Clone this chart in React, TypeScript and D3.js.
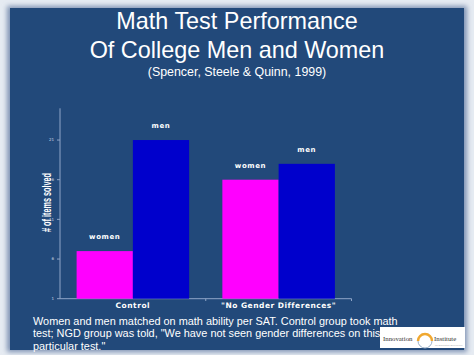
import React from "react";
import * as d3 from "d3";

const categories = ["Control", "\"No Gender Differences\""];
const groups = ["women", "men"];
const womenValues = [7, 16];
const menValues = [21, 18];
const yTicks = [1, 6, 11, 16, 21];
const titleLines = ["Math Test Performance", "Of College Men and Women"];
const subtitle = "(Spencer, Steele & Quinn, 1999)";
const yLabel = "# of items solved";
const footerLines = [
  "Women and men matched on math ability per SAT. Control group took math",
  "test; NGD group was told, \"We have not seen gender differences on this",
  "particular test.\"",
];

const W = 474;
const H = 355;
const BG = "#22497a";
const colors: Record<string, string> = { women: "#ff00ff", men: "#0000cc" };

export default function App() {
  const x0 = d3.scaleBand<string>().domain(categories).range([60, 351.5]).paddingInner(0).paddingOuter(0);
  const x1 = d3.scaleBand<string>().domain(groups).range([0, x0.bandwidth()]).paddingOuter(0.295).paddingInner(0);
  const y = d3.scaleLinear().domain([1, 25]).range([298.7, 108.3]);
  const data = categories.map((c, i) => ({ c, vals: [womenValues[i], menValues[i]] }));
  const wideFont = "'DejaVu Sans', sans-serif";
  return (
    <div style={{ position: "absolute", left: 0, top: 0, width: W, height: H }}>
      <svg width={W} height={H} style={{ display: "block" }}>
        <defs>
          <filter id="sh" x="-5%" y="-5%" width="110%" height="110%">
            <feGaussianBlur stdDeviation="2.5" />
          </filter>
        </defs>
        <rect x={0} y={0} width={W} height={H} fill="#e6ebf2" />
        <rect x={7} y={6} width={460} height={346} fill="#7f93b3" filter="url(#sh)" />
        <rect x={10} y={8} width={454} height={342} fill={BG} />
        {titleLines.map((t, i) => (
          <text key={i} x={237} y={29 + i * 28.5} textAnchor="middle" fill="#fff"
            fontFamily="'Liberation Sans', Arial, sans-serif" fontSize={23.4}>{t}</text>
        ))}
        <text x={237} y={76} textAnchor="middle" fill="#fff"
          fontFamily="'Liberation Sans', Arial, sans-serif" fontSize={12.4}>{subtitle}</text>
        {/* axes */}
        <line x1={60} x2={60} y1={108.3} y2={298.7} stroke="#8fa6c8" strokeWidth={1} />
        <line x1={60} x2={351.5} y1={298.7} y2={298.7} stroke="#8fa6c8" strokeWidth={1} />
        {yTicks.map((t) => (
          <g key={t}>
            <line x1={57} x2={60} y1={y(t)} y2={y(t)} stroke="#8fa6c8" />
            <text x={54} y={y(t)} dy="0.35em" textAnchor="end" fill="#cfd8e6"
              fontFamily={wideFont} fontSize={4}>{t}</text>
          </g>
        ))}
        {categories.map((c) => (
          <line key={c} x1={(x0(c) as number) + x0.bandwidth()} x2={(x0(c) as number) + x0.bandwidth()}
            y1={298.7} y2={301} stroke="#8fa6c8" />
        ))}
        <text transform={`translate(51,202.5) rotate(-90)`} textAnchor="middle" fill="#fff"
          fontFamily="'Liberation Sans Narrow', 'Liberation Sans', Arial, sans-serif" fontWeight="bold"
          fontSize={12} textLength={59} lengthAdjust="spacingAndGlyphs">{yLabel}</text>
        {data.map((d) => (
          <g key={d.c} transform={`translate(${x0(d.c)},0)`}>
            {groups.map((g, gi) => {
              const v = d.vals[gi];
              const bx = x1(g) as number;
              return (
                <g key={g}>
                  <rect x={bx} y={y(v)} width={x1.bandwidth()} height={y(1) - y(v)} fill={colors[g]} />
                  <text x={bx + x1.bandwidth() / 2} y={y(v) - 12} textAnchor="middle" fill="#fff"
                    fontFamily={wideFont} fontWeight="bold" fontSize={7}
                    letterSpacing={0.6}>{g}</text>
                </g>
              );
            })}
            <text x={x0.bandwidth() / 2} y={308} textAnchor="middle" fill="#fff"
              fontFamily={wideFont} fontWeight="bold" fontSize={7.5} letterSpacing={0.5}>{d.c}</text>
          </g>
        ))}
        {footerLines.map((t, i) => (
          <text key={i} x={33} y={325 + i * 12.3} fill="#fff"
            fontFamily="'Liberation Sans', Arial, sans-serif" fontSize={10.9}>{t}</text>
        ))}
        <g>
          <rect x={380} y={327} width={85} height={21} fill="#ffffff" />
          <text x={383} y={341} fill="#333" fontFamily="'Liberation Serif', serif" fontSize={6.8}>Innovation</text>
          <path d="M 418 341 A 7 7 0 1 1 432 341" fill="none" stroke="#f0a830" strokeWidth={2.5} />
          <path d="M 418 341 A 7 7 0 0 0 432 341" fill="none" stroke="#9ab0c8" strokeWidth={1} />
          <text x={434} y={341} fill="#333" fontFamily="'Liberation Serif', serif" fontSize={6.8}>Institute</text>
          <text x={435} y={345.5} fill="#aaa" fontFamily="'Liberation Sans', sans-serif" fontSize={2.5}>for Education Excellence</text>
        </g>
      </svg>
    </div>
  );
}
